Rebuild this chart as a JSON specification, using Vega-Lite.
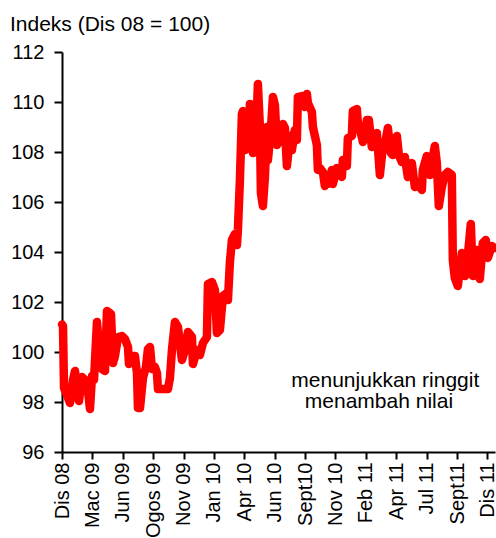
{
  "$schema": "https://vega.github.io/schema/vega-lite/v6.json",
  "width": 433,
  "height": 400,
  "autosize": "none",
  "padding": {"left": 62, "top": 52, "right": 1, "bottom": 86},
  "background": "white",
  "title": {"text": "Indeks (Dis 08 = 100)", "anchor": "start", "frame": "group", "offset": -10, "dx": -52, "fontSize": 21, "font": "Liberation Sans", "fontWeight": "normal", "color": "black", "baseline": "alphabetic"},
  "config": {
    "view": {"stroke": null},
    "axis": {"domainColor": "black", "domainWidth": 2, "tickColor": "black", "tickWidth": 2, "labelColor": "black", "labelFont": "Liberation Sans", "labelFontSize": 20, "grid": false, "title": null},
    "axisX": {"labelOverlap": false}
  },
  "datasets": {
    "series": [
      {"t":0.0,"v":101.1},{"t":0.033,"v":101.04},{"t":0.066,"v":98.56},{"t":0.164,"v":98.28},{"t":0.263,"v":97.96},{"t":0.362,"v":98.88},{"t":0.428,"v":99.24},{"t":0.493,"v":98.48},{"t":0.559,"v":98.04},{"t":0.658,"v":99.0},{"t":0.757,"v":98.88},{"t":0.822,"v":98.84},{"t":0.921,"v":97.72},{"t":0.987,"v":99.04},{"t":1.053,"v":98.88},{"t":1.151,"v":101.2},{"t":1.217,"v":100.2},{"t":1.316,"v":99.32},{"t":1.414,"v":99.24},{"t":1.48,"v":101.64},{"t":1.612,"v":101.52},{"t":1.678,"v":99.56},{"t":1.743,"v":99.84},{"t":1.842,"v":100.6},{"t":1.974,"v":100.64},{"t":2.072,"v":100.52},{"t":2.171,"v":100.2},{"t":2.204,"v":99.52},{"t":2.303,"v":99.84},{"t":2.401,"v":99.84},{"t":2.467,"v":99.16},{"t":2.5,"v":97.76},{"t":2.566,"v":97.76},{"t":2.664,"v":98.96},{"t":2.763,"v":99.4},{"t":2.829,"v":100.12},{"t":2.895,"v":100.2},{"t":2.961,"v":99.32},{"t":3.059,"v":99.4},{"t":3.125,"v":99.16},{"t":3.158,"v":98.52},{"t":3.322,"v":98.52},{"t":3.487,"v":98.52},{"t":3.553,"v":98.96},{"t":3.618,"v":100.08},{"t":3.717,"v":101.2},{"t":3.816,"v":101.0},{"t":3.947,"v":99.68},{"t":4.046,"v":100.08},{"t":4.145,"v":100.8},{"t":4.276,"v":100.6},{"t":4.309,"v":99.52},{"t":4.441,"v":100.08},{"t":4.539,"v":99.88},{"t":4.638,"v":100.36},{"t":4.77,"v":100.6},{"t":4.803,"v":102.72},{"t":4.934,"v":102.8},{"t":5.033,"v":102.48},{"t":5.099,"v":100.76},{"t":5.197,"v":100.88},{"t":5.296,"v":102.24},{"t":5.428,"v":102.36},{"t":5.461,"v":102.08},{"t":5.526,"v":103.6},{"t":5.592,"v":104.48},{"t":5.691,"v":104.72},{"t":5.757,"v":104.28},{"t":5.789,"v":104.88},{"t":5.855,"v":106.88},{"t":5.921,"v":109.52},{"t":5.954,"v":109.64},{"t":6.02,"v":108.08},{"t":6.086,"v":109.52},{"t":6.118,"v":108.2},{"t":6.184,"v":109.92},{"t":6.283,"v":107.96},{"t":6.349,"v":109.8},{"t":6.414,"v":109.6},{"t":6.447,"v":110.72},{"t":6.513,"v":109.0},{"t":6.546,"v":106.36},{"t":6.612,"v":105.84},{"t":6.678,"v":107.0},{"t":6.743,"v":109.0},{"t":6.776,"v":107.68},{"t":6.875,"v":108.88},{"t":6.941,"v":110.2},{"t":7.007,"v":109.88},{"t":7.072,"v":108.28},{"t":7.171,"v":108.48},{"t":7.27,"v":109.12},{"t":7.336,"v":108.96},{"t":7.401,"v":107.44},{"t":7.434,"v":107.8},{"t":7.5,"v":108.64},{"t":7.566,"v":108.08},{"t":7.664,"v":108.88},{"t":7.73,"v":108.48},{"t":7.763,"v":110.2},{"t":7.895,"v":110.24},{"t":7.993,"v":109.8},{"t":8.059,"v":110.32},{"t":8.092,"v":109.96},{"t":8.224,"v":109.6},{"t":8.257,"v":109.0},{"t":8.388,"v":108.28},{"t":8.421,"v":107.28},{"t":8.487,"v":107.36},{"t":8.586,"v":107.2},{"t":8.651,"v":106.64},{"t":8.717,"v":106.88},{"t":8.75,"v":106.72},{"t":8.882,"v":107.28},{"t":8.914,"v":106.72},{"t":9.046,"v":107.36},{"t":9.145,"v":107.16},{"t":9.211,"v":107.0},{"t":9.243,"v":107.68},{"t":9.375,"v":107.44},{"t":9.408,"v":108.56},{"t":9.539,"v":108.64},{"t":9.572,"v":109.64},{"t":9.704,"v":109.72},{"t":9.737,"v":109.16},{"t":9.868,"v":108.6},{"t":9.901,"v":108.4},{"t":9.967,"v":108.76},{"t":10.033,"v":109.28},{"t":10.099,"v":109.28},{"t":10.197,"v":108.2},{"t":10.23,"v":108.68},{"t":10.362,"v":108.76},{"t":10.461,"v":107.08},{"t":10.559,"v":108.2},{"t":10.625,"v":108.28},{"t":10.724,"v":108.96},{"t":10.822,"v":107.96},{"t":10.888,"v":107.88},{"t":11.02,"v":108.64},{"t":11.086,"v":107.88},{"t":11.184,"v":107.6},{"t":11.283,"v":107.8},{"t":11.382,"v":107.0},{"t":11.513,"v":107.56},{"t":11.612,"v":106.6},{"t":11.711,"v":106.76},{"t":11.842,"v":106.48},{"t":11.875,"v":107.28},{"t":12.007,"v":107.84},{"t":12.105,"v":107.08},{"t":12.204,"v":107.8},{"t":12.27,"v":108.24},{"t":12.336,"v":107.56},{"t":12.401,"v":105.84},{"t":12.5,"v":106.6},{"t":12.599,"v":107.08},{"t":12.697,"v":107.2},{"t":12.829,"v":107.08},{"t":12.862,"v":103.68},{"t":12.928,"v":102.96},{"t":13.026,"v":102.64},{"t":13.158,"v":103.96},{"t":13.257,"v":103.04},{"t":13.355,"v":103.84},{"t":13.454,"v":105.12},{"t":13.52,"v":103.04},{"t":13.651,"v":104.08},{"t":13.75,"v":102.92},{"t":13.849,"v":104.36},{"t":13.947,"v":104.48},{"t":14.013,"v":103.76},{"t":14.145,"v":104.24},{"t":14.243,"v":104.16}
    ],
    "notes": [
      {"t": 10.64, "v": 98.6, "label": "menunjukkan ringgit"},
      {"t": 10.43, "v": 97.76, "label": "menambah nilai"}
    ]
  },
  "encoding": {
    "x": {"field": "t", "type": "quantitative", "scale": {"domain": [0, 14.25], "nice": false, "zero": false},
      "axis": {"values": [0,1,2,3,4,5,6,7,8,9,10,11,12,13,14], "labelExpr": "['Dis 08','Mac 09','Jun 09','Ogos 09','Nov 09','Jan 10','Apr 10','Jun 10','Sept10','Nov 10','Feb 11','Apr 11','Jul 11','Sept11','Dis 11'][datum.value]", "labelAngle": -90, "tickSize": 7, "labelPadding": 3, "labelOverlap": false, "labelFlush": false, "labelBound": false}},
    "y": {"field": "v", "type": "quantitative", "scale": {"domain": [96, 112], "nice": false, "zero": false},
      "axis": {"values": [96,98,100,102,104,106,108,110,112], "tickSize": 8, "labelPadding": 10}}
  },
  "layer": [
    {
      "data": {"name": "series"},
      "mark": {"type": "line", "color": "#FF0000", "strokeWidth": 8.5, "strokeJoin": "round", "strokeCap": "round", "clip": false}
    },
    {
      "data": {"name": "notes"},
      "mark": {"type": "text", "font": "Liberation Sans", "fontSize": 21, "color": "black", "align": "center", "baseline": "alphabetic"},
      "encoding": {
        "text": {"field": "label"}
      }
    }
  ]
}
